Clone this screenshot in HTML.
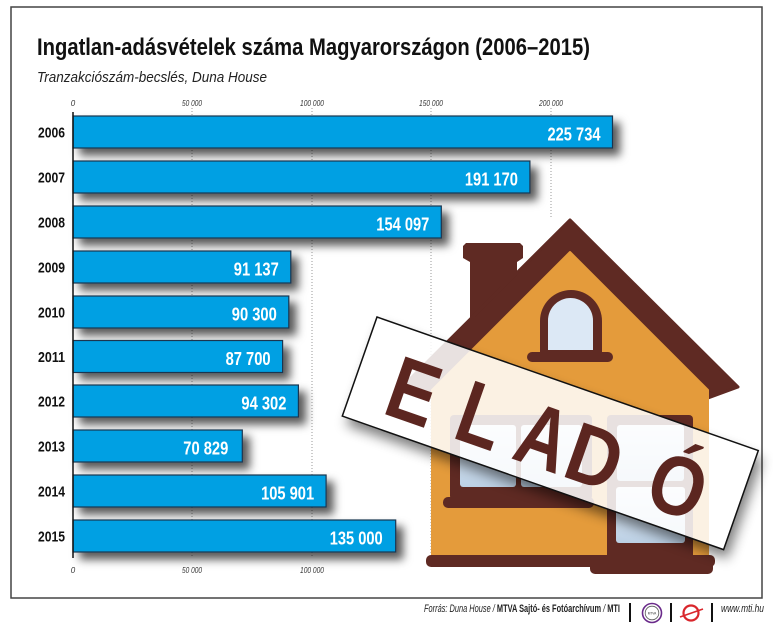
<!DOCTYPE html>
<html><head><meta charset="utf-8">
<style>html,body{margin:0;padding:0;background:#fff}svg{display:block}</style>
</head><body>
<svg width="773" height="630" viewBox="0 0 773 630" xmlns="http://www.w3.org/2000/svg" font-family="'Liberation Sans', 'DejaVu Sans', sans-serif">
<defs>
<filter id="bs" x="-10%" y="-40%" width="130%" height="200%"><feDropShadow dx="7" dy="7" stdDeviation="4.5" flood-color="#000" flood-opacity="0.65"/></filter>
<filter id="blur" x="-20%" y="-60%" width="140%" height="220%"><feGaussianBlur stdDeviation="6"/></filter>
<linearGradient id="pane" x1="0" y1="0" x2="0" y2="1"><stop offset="0" stop-color="#e6eff9"/><stop offset="1" stop-color="#bcd0e4"/></linearGradient>
<mask id="sm" maskUnits="userSpaceOnUse" x="0" y="0" width="773" height="630"><rect width="773" height="630" fill="#fff"/><rect x="0" y="0" width="404" height="105" fill="#000" transform="translate(377,317) rotate(19.3)"/></mask>
</defs>
<rect width="773" height="630" fill="#fff"/>
<rect x="11" y="7" width="751" height="591" fill="#fff" stroke="#444" stroke-width="1.5"/>

<text x="37" y="55" font-size="24" font-weight="bold" fill="#111" textLength="553" lengthAdjust="spacingAndGlyphs">Ingatlan-adásvételek száma Magyarországon (2006–2015)</text>
<text x="37" y="82" font-size="15" font-style="italic" fill="#222" textLength="230" lengthAdjust="spacingAndGlyphs">Tranzakciószám-becslés, Duna House</text>

<g stroke="#999" stroke-width="1" stroke-dasharray="1,2">
<line x1="192" y1="108" x2="192" y2="556"/>
<line x1="312" y1="108" x2="312" y2="556"/>
<line x1="431" y1="108" x2="431" y2="556"/>
<line x1="551" y1="108" x2="551" y2="218"/>
</g>
<g font-size="8" font-style="italic" fill="#333" text-anchor="middle">
<text x="73" y="106">0</text>
<text x="192" y="106" textLength="20" lengthAdjust="spacingAndGlyphs">50 000</text>
<text x="312" y="106" textLength="24" lengthAdjust="spacingAndGlyphs">100 000</text>
<text x="431" y="106" textLength="24" lengthAdjust="spacingAndGlyphs">150 000</text>
<text x="551" y="106" textLength="24" lengthAdjust="spacingAndGlyphs">200 000</text>
<text x="73" y="573">0</text>
<text x="192" y="573" textLength="20" lengthAdjust="spacingAndGlyphs">50 000</text>
<text x="312" y="573" textLength="24" lengthAdjust="spacingAndGlyphs">100 000</text>
</g>

<g fill="#00a0e3" stroke="#1b3550" stroke-width="1.2" filter="url(#bs)">
<rect x="73" y="116" width="539.5" height="32"/>
<rect x="73" y="161" width="456.9" height="32"/>
<rect x="73" y="206" width="368.3" height="32"/>
<rect x="73" y="251" width="217.8" height="32"/>
<rect x="73" y="296" width="215.8" height="32"/>
<rect x="73" y="340.5" width="209.6" height="32"/>
<rect x="73" y="385" width="225.4" height="32"/>
<rect x="73" y="430" width="169.3" height="32"/>
<rect x="73" y="475" width="253.1" height="32"/>
<rect x="73" y="520" width="322.7" height="32"/>
</g>
<line x1="73" y1="112" x2="73" y2="558" stroke="#111" stroke-width="1.5"/>

<g font-size="14.5" font-weight="bold" fill="#111" text-anchor="end">
<text x="65" y="137.5" textLength="27" lengthAdjust="spacingAndGlyphs">2006</text>
<text x="65" y="182.5" textLength="27" lengthAdjust="spacingAndGlyphs">2007</text>
<text x="65" y="227.5" textLength="27" lengthAdjust="spacingAndGlyphs">2008</text>
<text x="65" y="272.5" textLength="27" lengthAdjust="spacingAndGlyphs">2009</text>
<text x="65" y="317.5" textLength="27" lengthAdjust="spacingAndGlyphs">2010</text>
<text x="65" y="362" textLength="27" lengthAdjust="spacingAndGlyphs">2011</text>
<text x="65" y="406.5" textLength="27" lengthAdjust="spacingAndGlyphs">2012</text>
<text x="65" y="451.5" textLength="27" lengthAdjust="spacingAndGlyphs">2013</text>
<text x="65" y="496.5" textLength="27" lengthAdjust="spacingAndGlyphs">2014</text>
<text x="65" y="541.5" textLength="27" lengthAdjust="spacingAndGlyphs">2015</text>
</g>

<g font-size="18.5" font-weight="bold" fill="#fff" text-anchor="end">
<text x="600.5" y="140.5" textLength="53" lengthAdjust="spacingAndGlyphs">225 734</text>
<text x="517.9" y="185.5" textLength="53" lengthAdjust="spacingAndGlyphs">191 170</text>
<text x="429.3" y="230.5" textLength="53" lengthAdjust="spacingAndGlyphs">154 097</text>
<text x="278.8" y="275.5" textLength="45" lengthAdjust="spacingAndGlyphs">91 137</text>
<text x="276.8" y="320.5" textLength="45" lengthAdjust="spacingAndGlyphs">90 300</text>
<text x="270.6" y="365" textLength="45" lengthAdjust="spacingAndGlyphs">87 700</text>
<text x="286.4" y="409.5" textLength="45" lengthAdjust="spacingAndGlyphs">94 302</text>
<text x="228.3" y="454.5" textLength="45" lengthAdjust="spacingAndGlyphs">70 829</text>
<text x="314.1" y="499.5" textLength="53" lengthAdjust="spacingAndGlyphs">105 901</text>
<text x="382.7" y="544.5" textLength="53" lengthAdjust="spacingAndGlyphs">135 000</text>
</g>

<g>
<polygon points="463,246 466,243 520,243 523,246 523,258 517,262 517,300 470,347 470,262 463,258" fill="#5f2a23"/>
<polygon points="570,220 738,387 708,398 432,398 402,387" fill="#5f2a23" stroke="#5f2a23" stroke-width="3" stroke-linejoin="round"/>
<polygon points="570,252 708,390 708,557 432,557 432,390" fill="#e49b3b" stroke="#e49b3b" stroke-width="2" stroke-linejoin="round"/>
<path d="M540,355 L540,321 A31,31 0 0 1 602,321 L602,355 Z" fill="#5f2a23"/>
<path d="M548,350 L548,320.5 A22.5,22.5 0 0 1 593,320.5 L593,350 Z" fill="#dce8f5"/>
<rect x="527" y="352" width="86" height="10" rx="5" fill="#5f2a23"/>
<rect x="450" y="415" width="142" height="85" rx="4" fill="#5f2a23"/>
<rect x="443" y="497" width="151" height="11" rx="5" fill="#5f2a23"/>
<rect x="460" y="425" width="56" height="62" rx="3" fill="url(#pane)"/>
<rect x="521" y="425" width="61" height="62" rx="3" fill="url(#pane)"/>
<rect x="607" y="415" width="86" height="150" rx="4" fill="#5f2a23"/>
<rect x="617" y="425" width="67" height="56" rx="3" fill="url(#pane)"/>
<rect x="616" y="487" width="69" height="56" rx="3" fill="url(#pane)"/>
<rect x="426" y="555" width="289" height="12" rx="5" fill="#5f2a23"/>
<rect x="590" y="555" width="123" height="19" rx="5" fill="#5f2a23"/>
</g>

<g mask="url(#sm)">
<rect x="0" y="0" width="404" height="105" fill="#000" opacity="0.5" filter="url(#blur)" transform="translate(381,326) rotate(19.3)"/>
</g>
<g transform="translate(377,317) rotate(19.3)">
<rect x="0" y="0" width="404" height="105" fill="#fff" fill-opacity="0.86" stroke="#111" stroke-width="1.5"/>
<g fill="#5c2620" font-weight="bold">
<text transform="translate(35,89) scale(0.82,1)" font-size="89">E</text>
<text transform="translate(109,89) scale(0.82,1)" font-size="89">L</text>
<text transform="translate(172,89) scale(0.78,1)" font-size="89">A</text>
<text transform="translate(225,89) scale(0.88,1)" font-size="84">D</text>
<text transform="translate(312,89) scale(0.85,1)" font-size="84">Ó</text>
</g>
</g>

<text x="424" y="612" font-size="11" fill="#222" textLength="196" lengthAdjust="spacingAndGlyphs"><tspan font-style="italic">Forrás: Duna House / </tspan><tspan font-weight="bold">MTVA Sajtó- és Fotóarchívum</tspan><tspan font-style="italic"> / </tspan><tspan font-weight="bold">MTI</tspan></text>
<g stroke="#111" stroke-width="2">
<line x1="630" y1="603" x2="630" y2="622"/>
<line x1="671" y1="603" x2="671" y2="622"/>
<line x1="712" y1="603" x2="712" y2="622"/>
</g>
<circle cx="652" cy="613" r="9.5" fill="#fff" stroke="#6a2a8a" stroke-width="1.6"/>
<circle cx="652" cy="613" r="6.8" fill="none" stroke="#555" stroke-width="0.8"/>
<text x="652" y="614.5" font-size="3.2" text-anchor="middle" fill="#333">MTVA</text>
<circle cx="691" cy="613" r="7.5" fill="none" stroke="#d9262c" stroke-width="2.2"/>
<line x1="680" y1="617" x2="703" y2="609" stroke="#d9262c" stroke-width="1.6"/>
<text x="721" y="612" font-size="11" font-style="italic" fill="#222" textLength="43" lengthAdjust="spacingAndGlyphs">www.mti.hu</text>
</svg>
</body></html>
